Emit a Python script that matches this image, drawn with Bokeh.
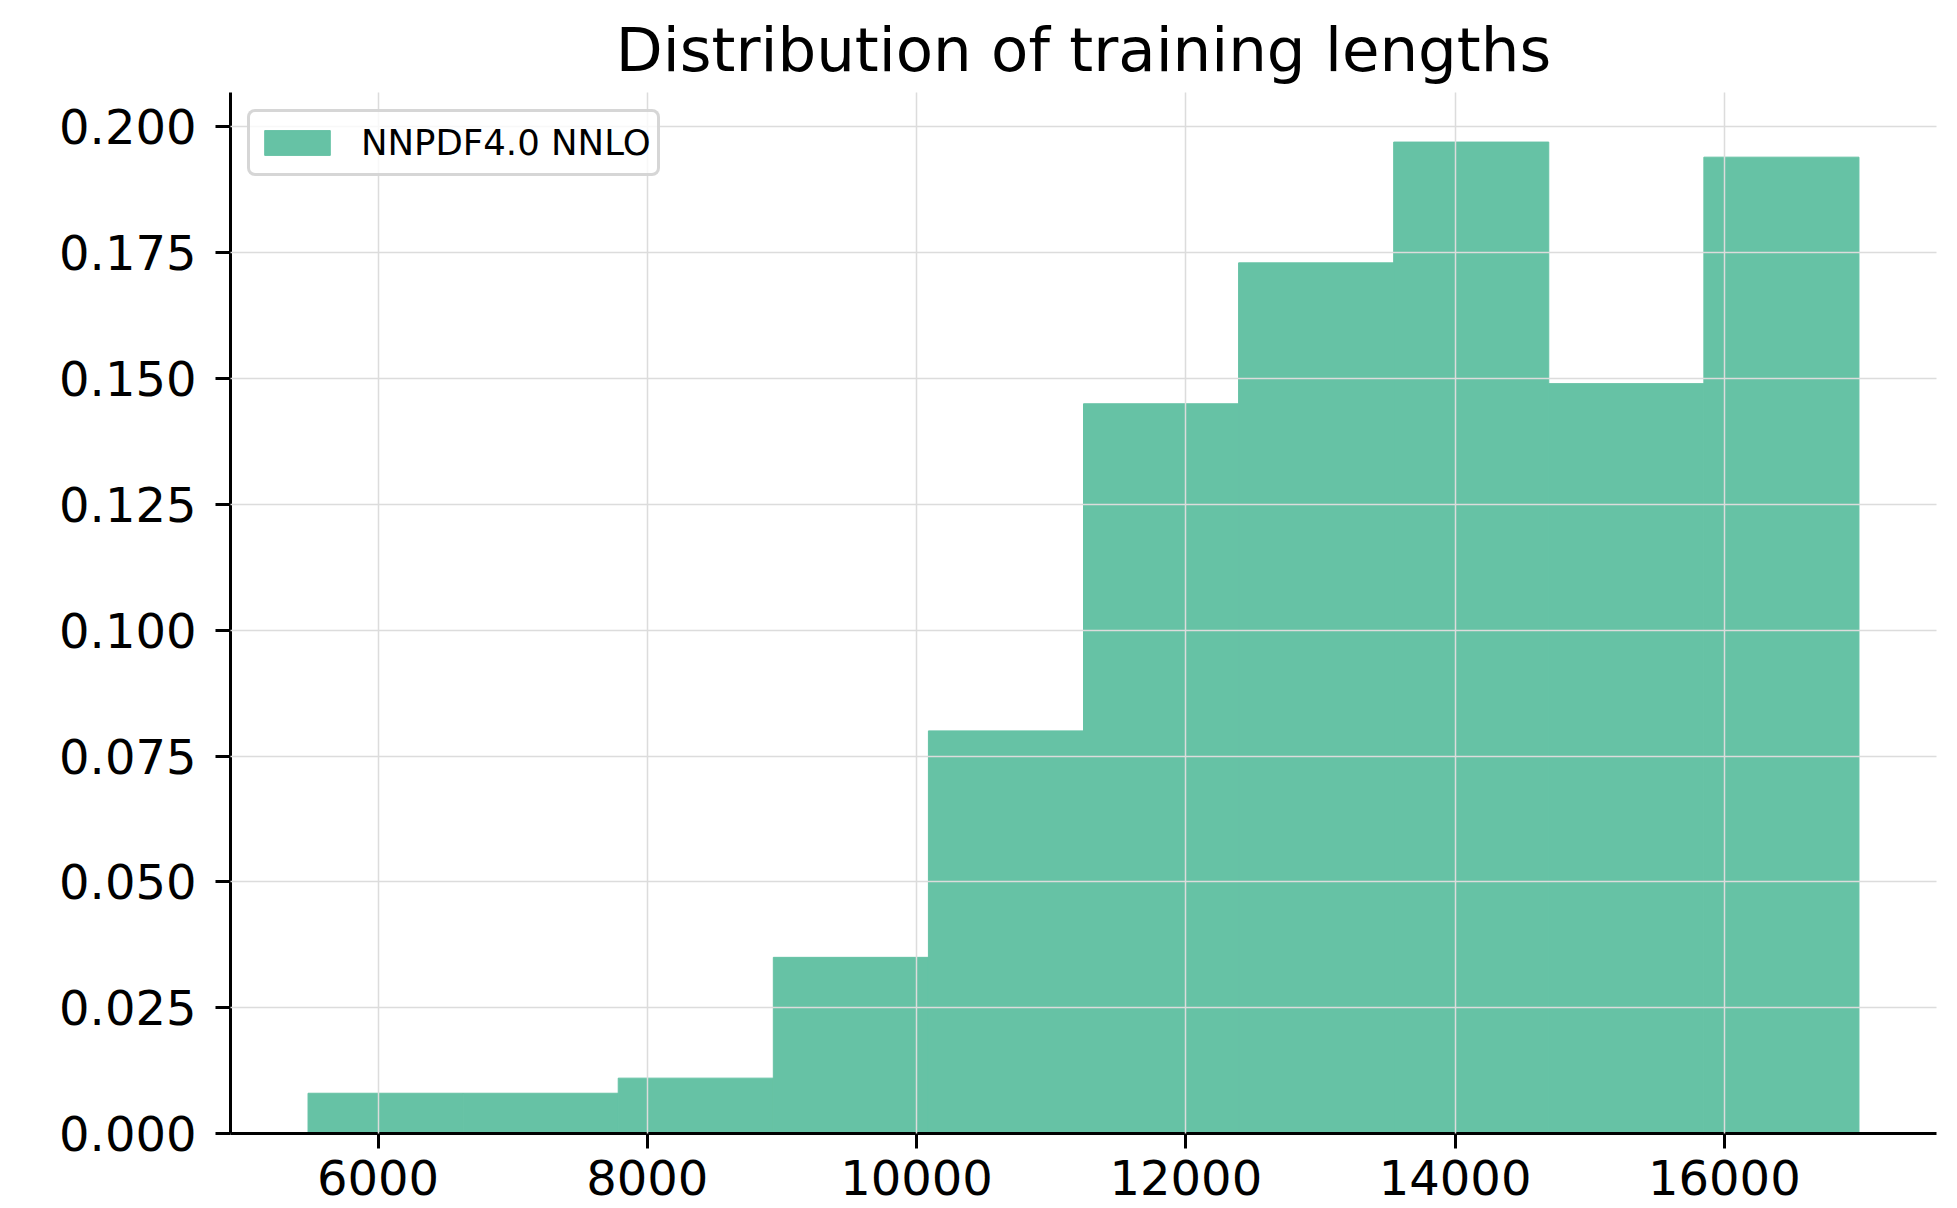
from bokeh.plotting import figure
from bokeh.models import Range1d, FixedTicker, NumeralTickFormatter
from bokeh.embed import file_html
from bokeh.resources import INLINE

# Histogram data (normalised weights per bin)
bin_edges = [5480, 6632, 7784, 8936, 10088, 11240, 12392, 13544, 14696, 15848, 17000]
bin_heights = [0.008, 0.008, 0.011, 0.035, 0.080, 0.145, 0.173, 0.197, 0.149, 0.194]
series_label = "NNPDF4.0 NNLO"
title_text = "Distribution of training lengths"
x_ticks = [6000, 8000, 10000, 12000, 14000, 16000]
y_ticks = [0.0, 0.025, 0.05, 0.075, 0.1, 0.125, 0.15, 0.175, 0.2]

xmin, xmax = bin_edges[0], bin_edges[-1]
xpad = 0.05 * (xmax - xmin)
ymax = max(bin_heights) * 1.05

FONT = "DejaVu Sans"
BAR = "#66c2a5"

p = figure(width=1957, height=1208, output_backend="svg", toolbar_location=None,
           x_range=Range1d(xmin - xpad, xmax + xpad), y_range=Range1d(0, ymax),
           min_border_left=230, min_border_right=21, min_border_top=92, min_border_bottom=75)

p.title.text = title_text
p.title.text_font = FONT
p.title.text_font_size = "61px"
p.title.text_font_style = "normal"
p.title.align = "center"
p.title.text_color = "black"
p.title.standoff = 16

p.quad(left=bin_edges[:-1], right=bin_edges[1:], bottom=0, top=bin_heights,
       fill_color=BAR, line_color=BAR, line_width=1, legend_label=series_label)

p.outline_line_color = None
for g in (p.xgrid, p.ygrid):
    g.grid_line_color = "#dcdcdc"
    g.grid_line_width = 1.5
    g.level = "overlay"

for ax in (p.xaxis, p.yaxis):
    ax.axis_line_color = "black"
    ax.axis_line_width = 3
    ax.major_tick_line_color = "black"
    ax.major_tick_line_width = 3
    ax.major_tick_out = 15
    ax.major_tick_in = 0
    ax.minor_tick_line_color = None
    ax.major_label_text_font = FONT
    ax.major_label_text_font_size = "48px"
    ax.major_label_text_color = "black"

p.xaxis.major_label_standoff = 11
p.yaxis.major_label_standoff = 19

p.xaxis.ticker = FixedTicker(ticks=x_ticks)
p.yaxis.ticker = FixedTicker(ticks=y_ticks)
p.yaxis.formatter = NumeralTickFormatter(format="0.000")

leg = p.legend[0]
leg.location = "top_left"
leg.margin = 17
leg.padding = 6
leg.spacing = 0
leg.glyph_width = 82
leg.glyph_height = 31
leg.label_height = 49
leg.label_standoff = 23
leg.label_text_font = FONT
leg.label_text_font_size = "35.5px"
leg.label_text_color = "black"
leg.border_line_color = "#cccccc"
leg.border_line_width = 3
leg.border_line_alpha = 0.8
leg.background_fill_color = "white"
leg.background_fill_alpha = 0.8
try:
    leg.border_radius = 8
except Exception:
    pass

open("out.html", "w").write(file_html(p, INLINE))
